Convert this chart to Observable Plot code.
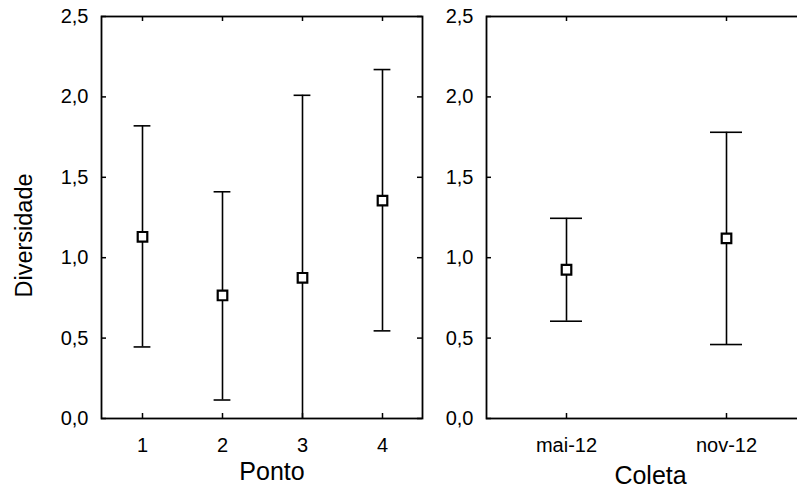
<!DOCTYPE html>
<html>
<head>
<meta charset="utf-8">
<script src="https://cdn.jsdelivr.net/npm/d3@7"></script>
<script src="https://cdn.jsdelivr.net/npm/@observablehq/plot@0.6"></script>
<style>
  html, body { margin: 0; padding: 0; background: #fff; }
  #wrap { position: relative; width: 797px; height: 493px; overflow: hidden; background: #fff; }
  #left, #right { position: absolute; top: 0; }
  #left { left: 0; width: 440px; }
  #right { left: 430px; width: 400px; }
  svg { max-width: none !important; display: block; }
</style>
</head>
<body>
<div id="wrap"><div id="left"></div><div id="right"></div></div>
<script>
// Left panel: Ponto
const ponto = ["1", "2", "3", "4"];
const pontoMean = [1.13, 0.765, 0.875, 1.355];
const pontoLow = [0.445, 0.115, -0.26, 0.545];
const pontoHigh = [1.82, 1.41, 2.01, 2.17];

// Right panel: Coleta
const coleta = ["mai-12", "nov-12"];
const coletaMean = [0.925, 1.12];
const coletaLow = [0.605, 0.46];
const coletaHigh = [1.245, 1.78];

const yTicks = [0, 0.5, 1.0, 1.5, 2.0, 2.5];
const yLabel = "Diversidade";
const xLabelLeft = "Ponto";
const xLabelRight = "Coleta";

const FONT = "'Liberation Sans', Arial, Helvetica, sans-serif";
const fmt = d => d.toFixed(1).replace(".", ",");

function panel({cats, mean, low, high, width, marginLeft, marginRight, capInset, xLabel, xLabelDx, xLabelDy, yTitle}) {
  const height = 493, marginTop = 16, marginBottom = 75;
  const pw = width - marginLeft - marginRight;
  const ph = height - marginTop - marginBottom;
  const data = cats.map((c, i) => ({cat: c, mean: mean[i], low: low[i], high: high[i]}));
  const marks = [
    Plot.frame({stroke: "black", strokeWidth: 1.8}),
    // inward ticks
    Plot.tickY(yTicks, {y: d => d, insetRight: pw - 5, stroke: "black", strokeWidth: 1.5}),
    Plot.tickY(yTicks, {y: d => d, insetLeft: pw - 5, stroke: "black", strokeWidth: 1.5}),
    Plot.tickX(cats, {x: d => d, insetTop: ph - 5, stroke: "black", strokeWidth: 1.5}),
    Plot.tickX(cats, {x: d => d, insetBottom: ph - 5, stroke: "black", strokeWidth: 1.5}),
    Plot.axisY(yTicks, {tickSize: 0, tickPadding: 13, tickFormat: fmt, fontSize: 20, label: null, fill: "black"}),
    Plot.axisX(cats, {tickSize: 0, tickPadding: 19, fontSize: 20, label: null, fill: "black"}),
    // error bars
    Plot.ruleX(data, {x: "cat", y1: "low", y2: "high", stroke: "black", strokeWidth: 1.6, clip: true}),
    Plot.tickY(data, {x: "cat", y: "high", insetLeft: capInset, insetRight: capInset, stroke: "black", strokeWidth: 1.6}),
    Plot.tickY(data.filter(d => d.low >= 0), {x: "cat", y: "low", insetLeft: capInset, insetRight: capInset, stroke: "black", strokeWidth: 1.6}),
    Plot.dot(data, {x: "cat", y: "mean", symbol: "square", r: 5.4, fill: "white", stroke: "black", strokeWidth: 2.2}),
    Plot.text([xLabel], {frameAnchor: "bottom", dx: xLabelDx, dy: xLabelDy, fontSize: 25, lineAnchor: "middle", textAnchor: "middle", fill: "black"})
  ];
  if (yTitle) {
    marks.push(Plot.text([yTitle], {frameAnchor: "left", rotate: -90, dx: -77, dy: 18, fontSize: 23.5, textAnchor: "middle", lineAnchor: "middle", fill: "black"}));
  }
  return Plot.plot({
    width, height, marginTop, marginBottom, marginLeft, marginRight,
    style: {fontFamily: FONT, fontSize: "20px", background: "white", color: "black", overflow: "visible", maxWidth: "none"},
    x: {type: "band", domain: cats, padding: 0, axis: null},
    y: {domain: [0, 2.5], axis: null},
    marks
  });
}

document.getElementById("left").appendChild(panel({
  cats: ponto, mean: pontoMean, low: pontoLow, high: pontoHigh,
  width: 440, marginLeft: 101, marginRight: 18, capInset: 31.6,
  xLabel: xLabelLeft, xLabelDx: 10, xLabelDy: 53, yTitle: yLabel
}));
document.getElementById("right").appendChild(panel({
  cats: coleta, mean: coletaMean, low: coletaLow, high: coletaHigh,
  width: 400, marginLeft: 56, marginRight: 24, capInset: 64,
  xLabel: xLabelRight, xLabelDx: 4, xLabelDy: 57, yTitle: null
}));
</script>
</body>
</html>
